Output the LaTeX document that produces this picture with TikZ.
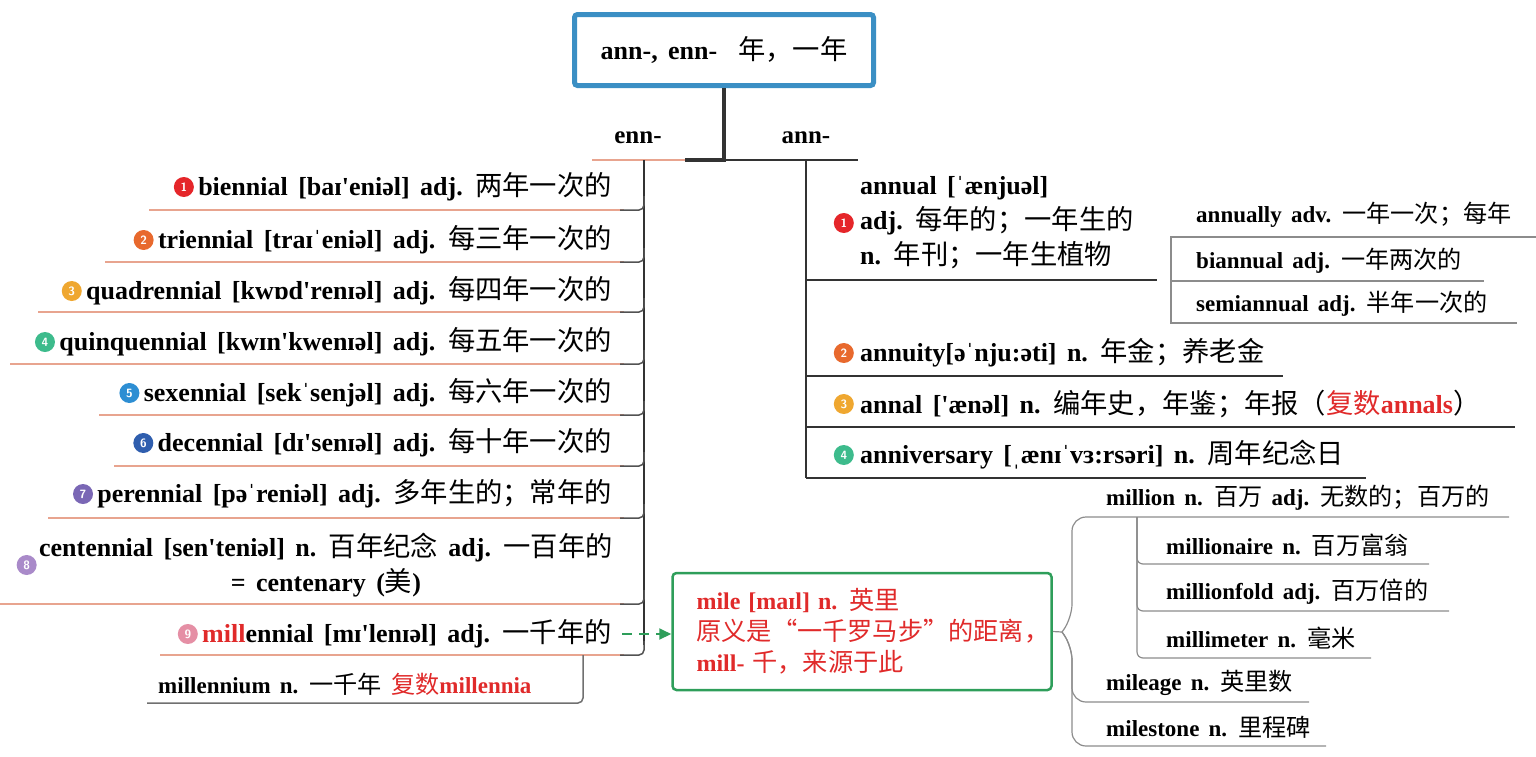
\documentclass[tikz,border=0pt]{standalone}
\usepackage{fontspec}
\setmainfont{Liberation Serif}[WordSpace=1.6]
\newfontfamily\cjk{Noto Sans CJK SC}[Scale=1.05]
\newcommand{\zh}[1]{{\cjk\mdseries #1}}
\newcommand{\ap}{\textquotesingle}
\usetikzlibrary{positioning,arrows.meta}

\definecolor{rootblue}{HTML}{3B8FC4}
\definecolor{linepink}{HTML}{E8A48F}
\definecolor{mapgreen}{HTML}{2E9E5A}
\definecolor{mapred}{HTML}{E02A2A}
\definecolor{darkline}{HTML}{333333}
\definecolor{greyline}{HTML}{8C8C8C}
\definecolor{c1}{HTML}{E5262A}
\definecolor{c2}{HTML}{E8692D}
\definecolor{c3}{HTML}{EFA730}
\definecolor{c4}{HTML}{3DBB8C}
\definecolor{c5}{HTML}{2D8ED3}
\definecolor{c6}{HTML}{2F5EAE}
\definecolor{c7}{HTML}{7A67B5}
\definecolor{c8}{HTML}{A98AC9}
\definecolor{c9}{HTML}{E58FA5}

\begin{document}
\begin{tikzpicture}[x=1pt, y=-1pt]

  \tikzstyle{trunk}  = [darkline, line width=2pt]
  \tikzstyle{conn}   = [darkline!85, line width=1.5pt, rounded corners=5pt]
  \tikzstyle{uline}  = [linepink, line width=1.5pt]
  \tikzstyle{rline}  = [darkline, line width=1.5pt]
  \tikzstyle{gline}  = [greyline, line width=1.2pt, rounded corners=8pt]
  \tikzstyle{lword}  = [anchor=east, inner sep=0pt, font=\fontsize{26}{35}\selectfont\bfseries]
  \tikzstyle{rword}  = [anchor=west, inner sep=0pt, font=\fontsize{26}{35}\selectfont\bfseries]
  \tikzstyle{sword}  = [anchor=west, inner sep=0pt, font=\fontsize{23}{26}\selectfont\bfseries]
  \tikzstyle{badge}  = [circle, inner sep=0pt, minimum size=20pt, text=white, font=\fontsize{12}{12}\selectfont\sffamily\bfseries]
  \tikzstyle{lbl}    = [inner sep=0pt, font=\fontsize{25}{26}\selectfont\bfseries]
  \tikzstyle{gbox}   = [draw=mapgreen, line width=2.5pt, rounded corners=4pt, minimum height=117pt,
                        text width=331pt, inner xsep=24pt, align=left, text=mapred,
                        font=\fontsize{24}{31}\selectfont\bfseries]
  \tikzstyle{garrow} = [mapgreen, line width=2pt, dash pattern=on 10pt off 7pt, -{Triangle[length=12pt,width=11pt]}]

  \useasboundingbox (0,0) rectangle (1536,756);

  % ---- ROOT ----
  \node[draw=rootblue, line width=5pt, rounded corners=3pt, minimum width=299pt, minimum height=71pt,
        font=\fontsize{26}{30}\selectfont\bfseries] (root) at (724,50) {ann-, enn-\ \ \zh{年，一年}};
  \coordinate (hub)  at (724,160);
  \coordinate (ltop) at (644,160);
  \coordinate (rtop) at (806,160);
  \draw[trunk, line width=4pt] (root.south) -- (hub) -- (685,160);
  \draw[rline] (hub) -- (858,160);
  \draw[uline] (592,160) -- (685,160);
  \node[lbl] (enn) at (638,138) {enn-};
  \node[lbl] (ann) at (806,138) {ann-};

  % ---- ENN- (left) ----
  \draw[trunk] (ltop) -- (644,645);
  \foreach \xl/\y in {149/210, 105/262, 38/312, 10/364, 99/415, 114/466, 48/518, 0/604, 160/655}{
    \draw[uline] (\xl,\y) -- (624,\y);
    \draw[conn] (644,\y-14) |- (620,\y);
  }

  % Row 1
  \node[lword] (bien) at (612,187) {biennial [baɪ\ap eniəl] adj. \zh{两年一次的}};
  \node[badge, fill=c1, left=4pt of bien] (n1) {1};
  % Row 2
  \node[lword] (trien) at (612,240) {triennial [traɪˈeniəl] adj. \zh{每三年一次的}};
  \node[badge, fill=c2, left=4pt of trien] (n2) {2};
  % Row 3
  \node[lword] (quad) at (612,291) {quadrennial [kwɒd\ap renɪəl] adj. \zh{每四年一次的}};
  \node[badge, fill=c3, left=4pt of quad] (n3) {3};
  % Row 4
  \node[lword] (quin) at (612,342) {quinquennial [kwɪn\ap kwenɪəl] adj. \zh{每五年一次的}};
  \node[badge, fill=c4, left=4pt of quin] (n4) {4};
  % Row 5
  \node[lword] (sex) at (612,393) {sexennial [sekˈsenjəl] adj. \zh{每六年一次的}};
  \node[badge, fill=c5, left=4pt of sex] (n5) {5};
  % Row 6
  \node[lword] (dec) at (612,443) {decennial [dɪ\ap senɪəl] adj. \zh{每十年一次的}};
  \node[badge, fill=c6, left=4pt of dec] (n6) {6};
  % Row 7
  \node[lword] (per) at (612,494) {perennial [pəˈreniəl] adj. \zh{多年生的；常年的}};
  \node[badge, fill=c7, left=4pt of per] (n7) {7};
  % Row 8
  \node[lword, align=center] (cent) at (613,565) {centennial [sen\ap teniəl] n. \zh{百年纪念} adj. \zh{一百年的}\\= centenary (\zh{美})};
  \node[badge, fill=c8, left=2pt of cent] (n8) {8};
  % Row 9
  \node[lword] (mill) at (612,634) {{\color{mapred}mill}ennial [mɪ\ap lenɪəl] adj. \zh{一千年的}};
  \node[badge, fill=c9, left=4pt of mill] (n9) {9};
  \node[sword] (mnium) at (158,684) {millennium n. \zh{一千年}\ {\color{mapred}\zh{复数}millennia}};
  \draw[conn, darkline!70] (583,655) |- (147,703);

  % ---- ANN- (right) ----
  \draw[trunk] (rtop) -- (806,478);

  \node[rword, align=left] (annual) at (860,223) {annual [ˈænjuəl]\\adj. \zh{每年的；一年生的}\\n. \zh{年刊；一年生植物}};
  \node[badge, fill=c1, left=6pt of annual] (r1) {1};
  \draw[rline] (806,280) -- (1157,280);
  \node[sword] (annly) at (1196,215) {annually adv. \zh{一年一次；每年}};
  \node[sword] (bian)  at (1196,261) {biannual adj. \zh{一年两次的}};
  \node[sword] (semi)  at (1196,304) {semiannual adj. \zh{半年一次的}};
  \draw[gline, rounded corners=0pt] (1536,237) -- (1171,237) -- (1171,323) -- (1517,323);
  \draw[gline] (1171,281) -- (1484,281);

  \node[rword] (anty) at (860,353) {annuity[əˈnju:əti] n. \zh{年金；养老金}};
  \node[badge, fill=c2, left=6pt of anty] (r2) {2};
  \draw[rline] (806,376) -- (1283,376);

  \node[rword] (annal) at (860,404) {annal [\ap ænəl] n. \zh{编年史，年鉴；年报（}{\color{mapred}\zh{复数}annals}\zh{）}};
  \node[badge, fill=c3, left=6pt of annal] (r3) {3};
  \draw[rline] (806,427) -- (1515,427);

  \node[rword] (anniv) at (860,455) {anniversary [ˌænɪˈvɜ:rsəri] n. \zh{周年纪念日}};
  \node[badge, fill=c4, left=6pt of anniv] (r4) {4};
  \draw[rline] (806,478) -- (1366,478);

  % ---- MILE ----
  \node[gbox] (mile) at (862,631.5) {mile [maɪl] n. \zh{英里}\\\zh{原义是“一千罗马步”的距离，}\\mill- \zh{千，来源于此}};
  \draw[garrow] ([xshift=10pt]mill.east) -- (mill.east -| mile.west);

  \coordinate (mfork) at (1062,632);
  \draw[gline] (mile.east) -- (mfork);
  \draw[gline, rounded corners=14pt] (mfork) -- (1072,618) -- (1072,517) -- (1509,517);
  \draw[gline, rounded corners=14pt] (mfork) -- (1072,646) -- (1072,702) -- (1309,702);
  \draw[gline, rounded corners=14pt] (mfork) -- (1072,646) -- (1072,746) -- (1326,746);
  \draw[gline, rounded corners=6pt] (1137,517) |- (1429,564);
  \draw[gline, rounded corners=6pt] (1137,517) |- (1449,611);
  \draw[gline, rounded corners=6pt] (1137,517) |- (1371,658);

  \node[sword] (mlion) at (1106,498) {million n. \zh{百万} adj. \zh{无数的；百万的}};
  \node[sword] (mnair) at (1166,545) {millionaire n. \zh{百万富翁}};
  \node[sword] (mfold) at (1166,592) {millionfold adj. \zh{百万倍的}};
  \node[sword] (mmtr)  at (1166,638) {millimeter n. \zh{毫米}};
  \node[sword] (mage)  at (1106,683) {mileage n. \zh{英里数}};
  \node[sword] (mstn)  at (1106,727) {milestone n. \zh{里程碑}};

\end{tikzpicture}
\end{document}
